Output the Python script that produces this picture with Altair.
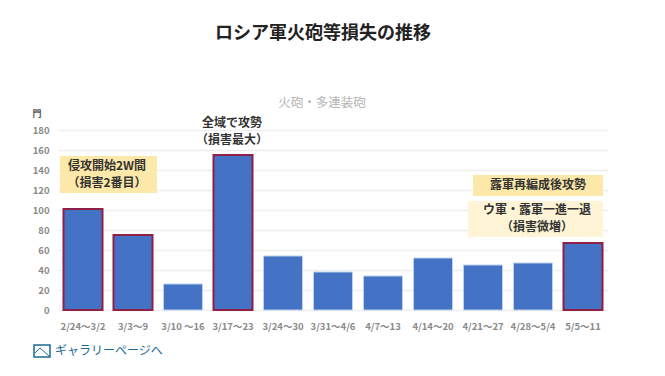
import altair as alt
import pandas as pd

FONT = "Noto Sans CJK JP"
weeks = ["2/24〜3/2", "3/3〜9", "3/10 〜16", "3/17〜23", "3/24〜30", "3/31〜4/6",
         "4/7〜13", "4/14〜20", "4/21〜27", "4/28〜5/4", "5/5〜11"]
losses = [101, 75, 26, 155, 54, 38, 34, 52, 45, 47, 67]
highlight = [True, True, False, True, False, False, False, False, False, False, True]

df = pd.DataFrame({"week": weeks, "losses": losses, "hl": highlight})

x = alt.X("week:N", sort=weeks, title=None,
          scale=alt.Scale(paddingInner=0.22, paddingOuter=0.11),
          axis=alt.Axis(labelAngle=0, labelFont=FONT, labelFontSize=9.5, labelFontWeight="bold",
                        labelColor="#8a8a8a", ticks=False, domain=False, labelPadding=11, grid=False))
y = alt.Y("losses:Q", title=None,
          scale=alt.Scale(domain=[0, 180], nice=False),
          axis=alt.Axis(values=list(range(0, 181, 20)), labelFont=FONT, labelFontSize=9.5,
                        labelFontWeight="bold", labelColor="#8a8a8a", ticks=False, domain=False,
                        labelPadding=9, gridColor="#eeeeee", gridWidth=1.5))

bars = alt.Chart(df).mark_bar().encode(
    x=x, y=y,
    stroke=alt.Stroke("hl:N", scale=alt.Scale(domain=[True, False], range=["#8f1f45", "#bcd2ee"]), legend=None),
    strokeWidth=alt.StrokeWidth("hl:N", scale=alt.Scale(domain=[True, False], range=[2, 1]), legend=None),
    color=alt.value("#4472c4"),
)


def box(x0, x1, y0, y1, color):
    return alt.Chart(pd.DataFrame({"a": [0]})).mark_rect(color=color).encode(
        x=alt.value(x0), x2=alt.value(x1), y=alt.value(y0), y2=alt.value(y1))


def label(text, px, py, size=12, color="#333333", weight="bold", align="center"):
    return alt.Chart(pd.DataFrame({"t": [text]})).mark_text(
        font=FONT, fontSize=size, fontWeight=weight, color=color, align=align, baseline="middle"
    ).encode(text="t:N", x=alt.value(px), y=alt.value(py))


layers = [
    bars,
    box(2, 99, 26, 63, "#fce8a8"),
    box(415, 545, 45, 66, "#fce8a8"),
    box(410, 545, 71, 107, "#fff4d6"),
    label("侵攻開始2W間", 49, 36),
    label("（損害2番目）", 49, 53),
    label("全域で攻勢", 174, -7),
    label("（損害最大）", 174, 10),
    label("露軍再編成後攻勢", 480, 55),
    label("ウ軍・露軍一進一退", 479, 80),
    label("（損害微増）", 479, 97),
    label("火砲・多連装砲", 264, -27, size=12.5, color="#b5b5b5", weight="normal"),
    label("門", -21, -16, size=9, color="#555555"),
    label("ロシア軍火砲等損失の推移", 265, -96, size=18, color="#222222"),
    # gallery link icon and text
    alt.Chart(pd.DataFrame({"a": [0]})).mark_rect(fill="#ffffff", stroke="#1a6a94", strokeWidth=1.5).encode(
        x=alt.value(-24), x2=alt.value(-8), y=alt.value(215), y2=alt.value(227)),
    alt.Chart(pd.DataFrame({"a": [0]})).mark_rule(color="#1a6a94", strokeWidth=1).encode(
        x=alt.value(-23), x2=alt.value(-18), y=alt.value(223), y2=alt.value(218)),
    alt.Chart(pd.DataFrame({"a": [0]})).mark_rule(color="#1a6a94", strokeWidth=1).encode(
        x=alt.value(-18), x2=alt.value(-9), y=alt.value(218), y2=alt.value(226)),
    label("ギャラリーページへ", -3, 221, size=12, color="#1a6a94", weight="normal", align="left"),
]

chart = alt.layer(*layers).properties(
    width=550, height=180,
    padding={"left": 50, "top": 122, "right": 49, "bottom": 56},
    autosize=alt.AutoSizeParams(type="none"),
    background="#ffffff",
).configure_view(stroke=None)

chart.save("out.html", embed_options={"renderer": "svg", "actions": False})
